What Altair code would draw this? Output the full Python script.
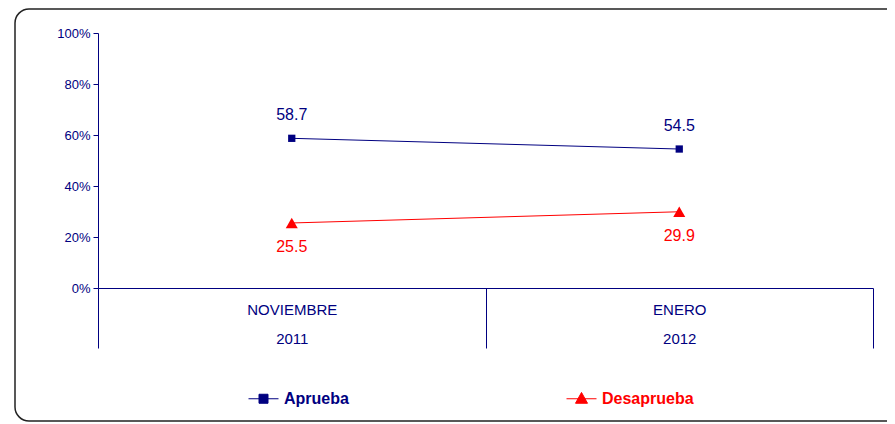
import altair as alt
import pandas as pd

# ---- data ----
periods = ["NOVIEMBRE|2011", "ENERO|2012"]
series = ["Aprueba", "Desaprueba"]
aprueba = [58.7, 54.5]
desaprueba = [25.5, 29.9]
y_ticks = [0, 0.2, 0.4, 0.6, 0.8, 1.0]

# ---- styling ----
NAVY = "#000080"
RED = "#FF0000"
colors = [NAVY, RED]
legend_paths = [
    "M-1,0H1M-0.3,-0.3H0.3V0.3H-0.3Z",
    "M-1,0H1M-0.4,0.3L0,-0.42L0.4,0.3Z",
]
FONT = "Liberation Sans"

rows = []
for s, vals in zip(series, [aprueba, desaprueba]):
    for p, v in zip(periods, vals):
        rows.append({"periodo": p, "serie": s, "valor": v / 100.0, "etiqueta": f"{v:.1f}"})
df = pd.DataFrame(rows)

W, H = 873, 414
Y0, Y1 = 280, 25
X0, X1 = 84, 859

x_enc = alt.X(
    "periodo:N",
    sort=periods,
    scale=alt.Scale(domain=periods, range=[X0, X1], paddingInner=0, paddingOuter=0),
    axis=alt.Axis(
        title=None,
        orient="bottom",
        offset=-(H - Y0),
        domainColor=NAVY,
        tickColor=NAVY,
        tickBand="extent",
        tickSize=60,
        labelExpr="split(datum.label, '|')",
        labelFontSize=15,
        labelColor=NAVY,
        labelLineHeight=29,
        labelPadding=-46,
        labelAngle=0,
        labelFont=FONT,
        grid=False,
    ),
)
y_enc = alt.Y(
    "valor:Q",
    scale=alt.Scale(domain=[0, 1], range=[Y0, Y1]),
    axis=alt.Axis(
        title=None,
        orient="left",
        offset=-X0,
        values=y_ticks,
        format=".0%",
        labelFontSize=13,
        labelColor=NAVY,
        labelFont=FONT,
        tickSize=5,
        tickColor=NAVY,
        domainColor=NAVY,
        labelPadding=3,
        grid=False,
    ),
)

leg = alt.Legend(
    orient="none",
    legendX=234,
    legendY=375,
    direction="horizontal",
    title=None,
    symbolSize=900,
    symbolStrokeWidth=1,
    symbolFillColor=NAVY,
    labelFontSize=16,
    labelFontWeight="bold",
    labelFont=FONT,
    labelColor=alt.ExprRef("datum.label == 'Aprueba' ? '#000080' : '#FF0000'"),
    columnPadding=215,
    labelOffset=5,
    padding=0,
)
col_scale = alt.Scale(domain=series, range=colors)

base = alt.Chart(df)

# outer rounded frame (right side runs off the page, as in the reference)
frame = base.mark_rect(
    fill=None, stroke="#222222", strokeWidth=1.5,
    cornerRadiusTopLeft=14, cornerRadiusBottomLeft=14,
    cornerRadiusTopRight=0, cornerRadiusBottomRight=0,
    clip=False,
).encode(
    x=alt.value(1), x2=alt.value(W + 60), y=alt.value(1), y2=alt.value(H - 1)
).transform_filter("datum.serie == 'Aprueba' && datum.periodo == 'ENERO|2012'")

line = base.mark_line(strokeWidth=1).encode(
    x=x_enc, y=y_enc,
    stroke=alt.Stroke("serie:N", scale=col_scale, legend=leg),
    detail="serie:N",
)

pts_a = base.transform_filter("datum.serie == 'Aprueba'").mark_point(
    shape="square", filled=True, size=53, color=NAVY, opacity=1
).encode(x=x_enc, y=y_enc)
pts_d = base.transform_filter("datum.serie == 'Desaprueba'").mark_point(
    shape="triangle-up", filled=True, size=144, color=RED, opacity=1
).encode(x=x_enc, y=y_enc)

txt_a = base.transform_filter("datum.serie == 'Aprueba'").mark_text(
    dy=-18, baseline="alphabetic", fontSize=16, color=NAVY, font=FONT
).encode(x=x_enc, y=y_enc, text="etiqueta:N")
txt_d = base.transform_filter("datum.serie == 'Desaprueba'").mark_text(
    dy=29, baseline="alphabetic", fontSize=16, color=RED, font=FONT
).encode(x=x_enc, y=y_enc, text="etiqueta:N")

legend_layer = base.mark_point(filled=True, opacity=0).encode(
    x=x_enc, y=y_enc,
    fill=alt.Fill("serie:N", scale=col_scale, legend=leg),
    stroke=alt.Stroke("serie:N", scale=col_scale, legend=leg),
    shape=alt.Shape("serie:N", scale=alt.Scale(domain=series, range=legend_paths), legend=leg),
)

chart = alt.layer(frame, line, pts_a, pts_d, txt_a, txt_d, legend_layer).properties(
    width=W,
    height=H,
    autosize="none",
    padding={"left": 6, "top": 0, "right": 0, "bottom": 0},
).configure(
    font=FONT
).configure_view(
    stroke=None, fill="white"
)

chart.save("out.html", embed_options={"renderer": "svg", "actions": False})
